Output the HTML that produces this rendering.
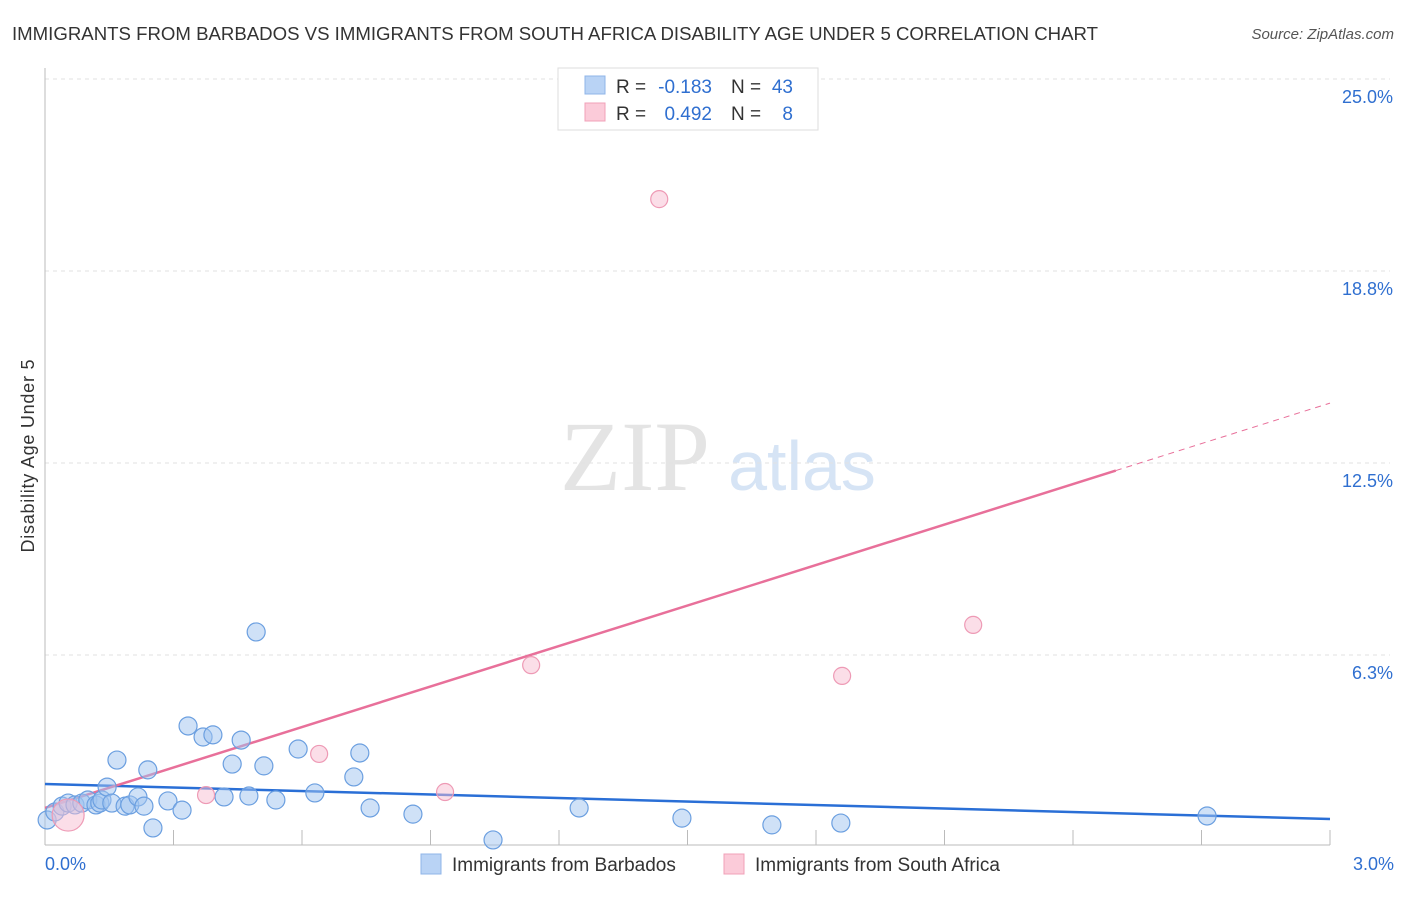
<!DOCTYPE html>
<html><head><meta charset="utf-8"><style>
body{margin:0;background:#fff;font-family:"Liberation Sans",sans-serif;}
svg text{font-family:"Liberation Sans",sans-serif;}
</style></head><body>
<svg width="1406" height="892" xmlns="http://www.w3.org/2000/svg" id="chart">
<text x="12" y="40" font-size="18" fill="#333" textLength="1086" lengthAdjust="spacingAndGlyphs">IMMIGRANTS FROM BARBADOS VS IMMIGRANTS FROM SOUTH AFRICA DISABILITY AGE UNDER 5 CORRELATION CHART</text>
<text x="1394" y="39" font-size="15" fill="#555" font-style="italic" text-anchor="end">Source: ZipAtlas.com</text>
<text x="34" y="456" font-size="18" fill="#333" text-anchor="middle" transform="rotate(-90 34 456)" textLength="193">Disability Age Under 5</text>
<text x="635" y="490" font-size="100" fill="#e4e4e4" style="font-family:'Liberation Serif',serif" text-anchor="middle">ZIP</text>
<text x="802" y="490" font-size="70" fill="#d6e4f5" text-anchor="middle">atlas</text>
<g id="grid"></g><g id="axes"></g><g id="trends"></g><g id="points"></g>
<g>
<rect x="558" y="68" width="260" height="62" fill="#fff" stroke="#ddd"/>
<rect x="585" y="76" width="20" height="18" fill="#b9d3f5" stroke="#8fb4e8"/>
<rect x="585" y="103" width="20" height="18" fill="#fbcbd9" stroke="#f0a0b8"/>
<text x="616" y="93" font-size="19" fill="#333">R =</text>
<text x="712" y="93" font-size="19" fill="#2f6fd0" text-anchor="end">-0.183</text>
<text x="731" y="93" font-size="19" fill="#333">N =</text>
<text x="793" y="93" font-size="19" fill="#2f6fd0" text-anchor="end">43</text>
<text x="616" y="120" font-size="19" fill="#333">R =</text>
<text x="712" y="120" font-size="19" fill="#2f6fd0" text-anchor="end">0.492</text>
<text x="731" y="120" font-size="19" fill="#333">N =</text>
<text x="793" y="120" font-size="19" fill="#2f6fd0" text-anchor="end">8</text>
</g>
<g>
<rect x="421" y="854" width="20" height="20" fill="#b9d3f5" stroke="#8fb4e8"/>
<text x="452" y="871" font-size="19" fill="#333">Immigrants from Barbados</text>
<rect x="724" y="854" width="20" height="20" fill="#fbcbd9" stroke="#f0a0b8"/>
<text x="755" y="871" font-size="19" fill="#333">Immigrants from South Africa</text>
</g>
</svg>
<script>
const blueX=[0.005,0.023,0.040,0.054,0.070,0.086,0.100,0.119,0.128,0.133,0.145,0.156,0.168,0.187,0.198,0.217,0.231,0.240,0.252,0.287,0.320,0.334,0.369,0.392,0.418,0.437,0.458,0.476,0.493,0.511,0.539,0.591,0.630,0.721,0.735,0.759,0.859,1.046,1.247,1.487,1.697,1.858,2.713];
const blueY=[0.88,1.14,1.33,1.43,1.37,1.43,1.53,1.37,1.43,1.53,1.95,1.43,2.83,1.33,1.37,1.63,1.33,2.51,0.62,1.50,1.20,3.94,3.58,3.65,1.63,2.70,3.48,1.66,7.00,2.64,1.53,3.19,1.76,2.28,3.06,1.27,1.07,0.23,1.27,0.94,0.72,0.78,1.01];
const pinkX=[0.054,0.376,0.640,0.934,1.135,1.434,1.861,2.167];
const pinkY=[1.04,1.69,3.03,1.79,5.92,21.09,5.57,7.23];
const yTicks=[6.25,12.5,18.75,25];
const yTickLabels=["6.3%","12.5%","18.8%","25.0%"];
const blueTrend=[2.05,0.91];
const pinkTrend=[1.27,14.45];
const NS="http://www.w3.org/2000/svg";
const sx=v=>45+v/3*1285, sy=v=>847-v/25*768;
function mk(t,a,p){const e=document.createElementNS(NS,t);for(const k in a)e.setAttribute(k,a[k]);p.appendChild(e);return e;}
const grid=document.getElementById('grid'),axes=document.getElementById('axes'),tr=document.getElementById('trends'),pts=document.getElementById('points');
yTicks.forEach((t,i)=>{const l=mk('line',{x1:45,x2:1390,y1:sy(t),y2:sy(t),stroke:'#e2e2e2','stroke-dasharray':'4,4'},grid);


const tx=mk('text',{x:1393,y:sy(t)+24,'font-size':18,fill:'#2f6fd0','text-anchor':'end'},grid);tx.textContent=yTickLabels[i];

});
mk('line',{x1:45,x2:45,y1:68,y2:845,stroke:'#bbb'},axes);
mk('line',{x1:45,x2:1330,y1:845,y2:845,stroke:'#bbb'},axes);
for(let i=1;i<=10;i++){const x=sx(i*0.3);mk('line',{x1:x,x2:x,y1:830,y2:845,stroke:'#bbb'},axes);}
let t0=mk('text',{x:45,y:870,'font-size':18,fill:'#2f6fd0'},axes);t0.textContent='0.0%';


let t1=mk('text',{x:1394,y:870,'font-size':18,fill:'#2f6fd0','text-anchor':'end'},axes);t1.textContent='3.0%';


const bl=mk('line',{x1:sx(0),y1:sy(blueTrend[0]),x2:sx(3),y2:sy(blueTrend[1]),stroke:'#2a6fd6','stroke-width':2.5},tr);


const pe=2.5,py=pinkTrend[0]+(pinkTrend[1]-pinkTrend[0])*pe/3;
const pl=mk('line',{x1:sx(0),y1:sy(pinkTrend[0]),x2:sx(pe),y2:sy(py),stroke:'#e8709a','stroke-width':2.5},tr);


mk('line',{x1:sx(pe),y1:sy(py),x2:sx(3),y2:sy(pinkTrend[1]),stroke:'#e8709a','stroke-width':1,'stroke-dasharray':'6,5'},tr);
blueX.forEach((x,i)=>{const c=mk('circle',{cx:sx(x),cy:sy(blueY[i]),r:9,fill:'rgba(160,195,240,0.5)',stroke:'#6b9fe0','stroke-width':1.2},pts);

});
pinkX.forEach((x,i)=>{const c=mk('circle',{cx:sx(x),cy:sy(pinkY[i]),r:i==0?16:8.5,fill:'rgba(248,190,210,0.5)',stroke:'#ee9ab5','stroke-width':1.2},pts);

});
</script>
</body></html>
